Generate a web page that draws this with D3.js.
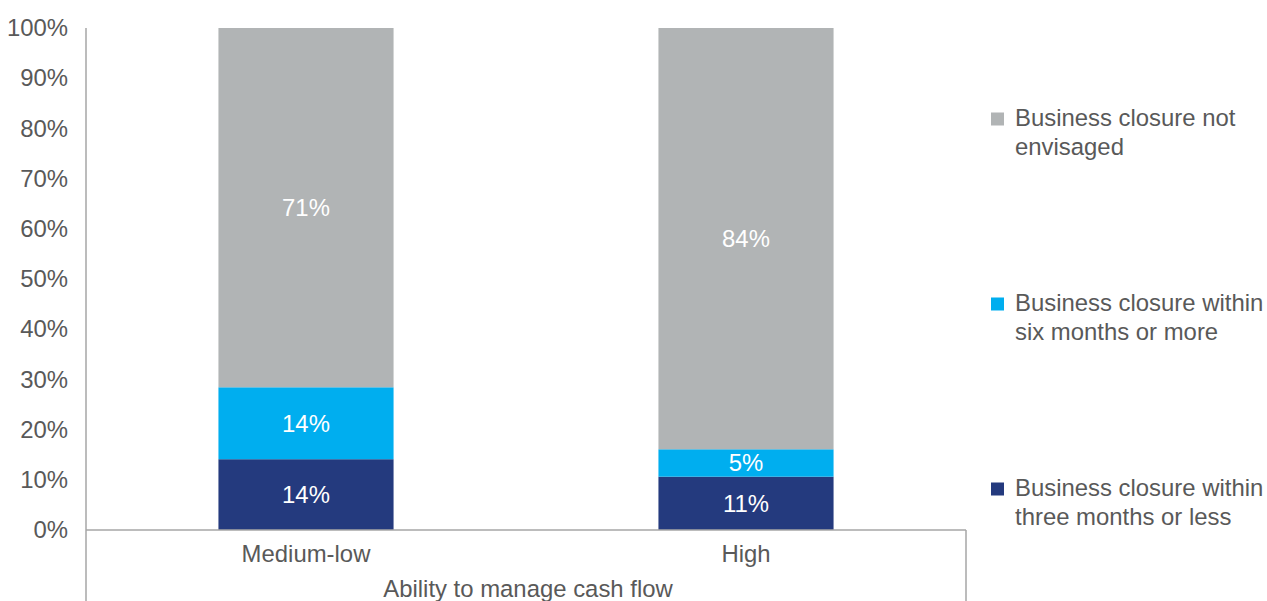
<!DOCTYPE html>
<html><head><meta charset="utf-8">
<script src="https://cdn.jsdelivr.net/npm/d3@7/dist/d3.min.js"></script>
<style>body{margin:0;background:#fff;}svg{display:block;font-family:"Liberation Sans",Arial,sans-serif;}</style>
</head><body>
<svg id="c" width="1267" height="601"></svg>
<script>
const categories = ["Medium-low", "High"];
const seriesNames = ["Business closure within three months or less", "Business closure within six months or more", "Business closure not envisaged"];
const threeMonths = [14.1, 10.62];
const sixMonths = [14.33, 5.46];
const notEnvisaged = [71.57, 83.92];
const valueLabels = [["14%", "11%"], ["14%", "5%"], ["71%", "84%"]];
const yTicks = [0, 10, 20, 30, 40, 50, 60, 70, 80, 90, 100];
const legendLines = [["Business closure not", "envisaged"], ["Business closure within", "six months or more"], ["Business closure within", "three months or less"]];
const colors = ["#243a7e", "#00aeef", "#b1b4b5"];
const axisTitle = "Ability to manage cash flow";

const FS = 23.9;
const svg = d3.select("#c");
const mLeft = 86, mRight = 966, mTop = 28, mBottom = 530;
const x = d3.scaleBand().domain(categories).range([mLeft, mRight]).paddingInner(0.602).paddingOuter(0.301);
const y = d3.scaleLinear().domain([0, 100]).range([mBottom, mTop]);

const rows = categories.map((c, i) => ({cat: c, s0: threeMonths[i], s1: sixMonths[i], s2: notEnvisaged[i]}));
const stack = d3.stack().keys(["s0", "s1", "s2"]);
const stacked = stack(rows);

const g = svg.append("g");
stacked.forEach((layer, li) => {
  g.selectAll(null).data(layer).join("rect")
    .attr("x", d => x(d.data.cat))
    .attr("width", x.bandwidth())
    .attr("y", d => y(d[1]))
    .attr("height", d => y(d[0]) - y(d[1]))
    .attr("fill", colors[li]);
  g.selectAll(null).data(layer).join("text")
    .attr("x", d => x(d.data.cat) + x.bandwidth() / 2)
    .attr("y", d => (y(d[0]) + y(d[1])) / 2)
    .attr("dy", "0.35em")
    .attr("text-anchor", "middle")
    .attr("fill", "#fff")
    .attr("font-size", FS)
    .text((d, i) => valueLabels[li][i]);
});

// y axis
const yAxis = d3.axisLeft(y).tickValues(yTicks).tickFormat(d => d + "%").tickSize(0).tickPadding(18);
const ya = svg.append("g").attr("transform", `translate(${mLeft},0)`).call(yAxis);
ya.select(".domain").remove();
ya.selectAll("text").attr("font-size", FS).attr("fill", "#595959").attr("font-family", "Liberation Sans, Arial, sans-serif");

const axisColor = "#a6a6a6";
svg.append("line").attr("x1", mLeft).attr("x2", mLeft).attr("y1", mTop).attr("y2", 601).attr("stroke", axisColor).attr("stroke-width", 1.5);
svg.append("line").attr("x1", mLeft).attr("x2", mRight).attr("y1", mBottom).attr("y2", mBottom).attr("stroke", axisColor).attr("stroke-width", 1.5);
svg.append("line").attr("x1", mRight).attr("x2", mRight).attr("y1", mBottom).attr("y2", 601).attr("stroke", axisColor).attr("stroke-width", 1.5);

// x axis labels
const xAxis = d3.axisBottom(x).tickSize(0).tickPadding(15.5);
const xa = svg.append("g").attr("transform", `translate(0,${mBottom})`).call(xAxis);
xa.select(".domain").remove();
xa.selectAll("text").attr("font-size", FS).attr("fill", "#595959").attr("font-family", "Liberation Sans, Arial, sans-serif");

svg.append("text").attr("x", 528).attr("y", 597).attr("text-anchor", "middle")
  .attr("font-size", FS).attr("fill", "#595959").text(axisTitle);

// legend
const legendColors = [colors[2], colors[1], colors[0]];
const legendY = [118, 303, 488];
legendLines.forEach((lines, i) => {
  const lg = svg.append("g");
  lg.append("rect").attr("x", 991).attr("y", legendY[i] - 5.5).attr("width", 13).attr("height", 13).attr("fill", legendColors[i]);
  lines.forEach((t, j) => {
    lg.append("text").attr("x", 1015).attr("y", legendY[i] + j * 29).attr("dy", "0.35em")
      .attr("font-size", FS).attr("fill", "#595959").text(t);
  });
});
</script>
</body></html>
